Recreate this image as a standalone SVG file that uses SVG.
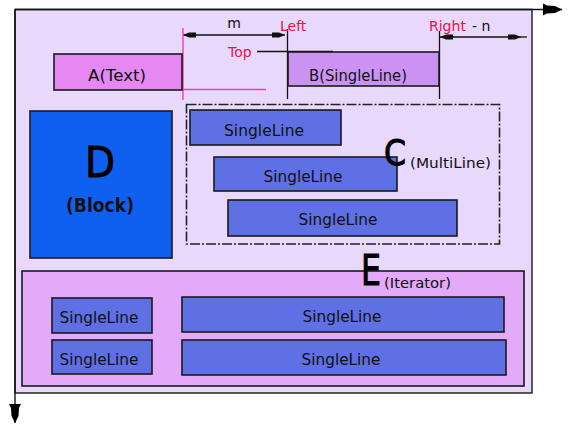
<svg xmlns="http://www.w3.org/2000/svg" width="568" height="425" viewBox="0 0 568 425">
  <defs>
    <style>
      .lbl { font-family: "DejaVu Sans", "Liberation Sans", sans-serif; fill: #111; }
      .big { font-family: "DejaVu Sans", "Liberation Sans", sans-serif; fill: #000; stroke: #000; stroke-width: 1; }
      .red { font-family: "DejaVu Sans", "Liberation Sans", sans-serif; fill: #e8104a; font-size: 14px; }
      .box { stroke: #1a1a1a; stroke-width: 1.6; }
      .single { fill: #5f6fe4; stroke: #1a1a1a; stroke-width: 1.6; }
      .dim { stroke: #111; stroke-width: 1.3; fill: none; }
      .pink { stroke: #f040b8; stroke-width: 1.4; fill: none; }
    </style>
    <marker id="dimEnd" markerWidth="14" markerHeight="8" refX="13" refY="4" orient="auto" markerUnits="userSpaceOnUse">
      <path d="M0,1.5 L7,1.5 L13,4 L7,6.5 L0,6.5 Z" fill="#111"/>
    </marker>
    <marker id="dimStart" markerWidth="14" markerHeight="8" refX="1" refY="4" orient="auto" markerUnits="userSpaceOnUse">
      <path d="M14,1.5 L7,1.5 L1,4 L7,6.5 L14,6.5 Z" fill="#111"/>
    </marker>
    <marker id="axisHead" markerWidth="20" markerHeight="14" refX="19" refY="7" orient="auto" markerUnits="userSpaceOnUse">
      <path d="M0,1 L4,3 L12,3.5 L19,7 L12,10.5 L4,11 L0,13 Z" fill="#000"/>
    </marker>
  </defs>

  <rect width="568" height="425" fill="#ffffff"/>

  <!-- page frame -->
  <g id="frame">
    <rect x="15" y="9.5" width="517" height="383.5" fill="#e8d8fb" stroke="#333" stroke-width="1.6"/>
  </g>

  <!-- coordinate axes and dimension lines -->
  <g id="connectors">
    <line x1="15" y1="9.5" x2="562" y2="9.5" stroke="#111" stroke-width="1.4" marker-end="url(#axisHead)"/>
    <line x1="15" y1="9.5" x2="15" y2="423" stroke="#111" stroke-width="1.4" marker-end="url(#axisHead)"/>

    <!-- m : gap between A and B -->
    <line class="dim" x1="183" y1="35" x2="285" y2="35" marker-start="url(#dimStart)" marker-end="url(#dimEnd)"/>
    <!-- n : right margin -->
    <line class="dim" x1="440" y1="37" x2="521" y2="37" marker-start="url(#dimStart)" marker-end="url(#dimEnd)"/>
    <line class="dim" x1="521" y1="37" x2="527" y2="37"/>

    <!-- guide ticks at B's left and right edges -->
    <line class="dim" x1="287.5" y1="29" x2="287.5" y2="99"/>
    <line class="dim" x1="439.5" y1="31" x2="439.5" y2="99"/>
    <!-- top guide -->
    <line x1="257" y1="51.5" x2="333" y2="51.5" stroke="#111" stroke-width="1.6"/>

    <!-- guides at A's right edge -->
    <line class="pink" x1="183" y1="28" x2="183" y2="100"/>
    <line class="pink" x1="182" y1="89.5" x2="266" y2="89.5"/>
  </g>

  <g id="labels">
    <text class="lbl" x="234" y="28" font-size="14" text-anchor="middle">m</text>
    <text class="red" x="280" y="31">Left</text>
    <text class="red" x="228" y="57" font-size="15">Top</text>
    <text class="red" x="429" y="31">Right</text>
    <text class="lbl" x="472" y="31" font-size="14">- n</text>
  </g>

  <g id="nodeA">
    <rect class="box" x="54" y="54" width="128" height="36" fill="#e688f2"/>
    <text class="lbl" x="117" y="81" font-size="15" text-anchor="middle" textLength="58" lengthAdjust="spacingAndGlyphs">A(Text)</text>
  </g>

  <g id="nodeB">
    <rect class="box" x="288" y="52" width="151" height="34" fill="#cc92f2"/>
    <text class="lbl" x="358" y="81" font-size="15" text-anchor="middle" textLength="98" lengthAdjust="spacingAndGlyphs">B(SingleLine)</text>
  </g>

  <g id="nodeD">
    <rect class="box" x="30" y="111" width="142" height="147" fill="#1060f0"/>
    <text class="big" x="100" y="177" font-size="42" text-anchor="middle" textLength="30" lengthAdjust="spacingAndGlyphs">D</text>
    <text class="lbl" x="100" y="212" font-size="19" font-weight="bold" text-anchor="middle" textLength="68" lengthAdjust="spacingAndGlyphs">(Block)</text>
  </g>

  <g id="nodeC1">
    <rect class="single" x="190" y="110" width="151" height="35"/>
    <text class="lbl" x="264" y="136" font-size="15" text-anchor="middle" textLength="80" lengthAdjust="spacingAndGlyphs">SingleLine</text>
  </g>
  <g id="nodeC2">
    <rect class="single" x="214" y="157" width="183" height="34"/>
    <text class="lbl" x="303" y="182" font-size="15" text-anchor="middle" textLength="79" lengthAdjust="spacingAndGlyphs">SingleLine</text>
  </g>
  <g id="nodeC3">
    <rect class="single" x="228" y="200" width="229" height="36"/>
    <text class="lbl" x="338" y="225" font-size="15" text-anchor="middle" textLength="79" lengthAdjust="spacingAndGlyphs">SingleLine</text>
  </g>

  <!-- multi-line container, its label sits over the second line -->
  <g id="nodeC">
    <rect x="186.5" y="104.5" width="313" height="139.5" fill="none" stroke="#222" stroke-width="1.6" stroke-dasharray="10 2 2 2"/>
    <text class="big" x="384" y="165" font-size="36" textLength="22" lengthAdjust="spacingAndGlyphs">C</text>
    <text class="lbl" x="410" y="168" font-size="14" textLength="81" lengthAdjust="spacingAndGlyphs">(MultiLine)</text>
  </g>

  <g id="nodeE">
    <rect class="box" x="22" y="271" width="502" height="115" fill="#e2aaf8"/>
    <text class="big" x="361" y="285" font-size="42" textLength="20" lengthAdjust="spacingAndGlyphs">E</text>
    <text class="lbl" x="384" y="288" font-size="14" textLength="67" lengthAdjust="spacingAndGlyphs">(Iterator)</text>
  </g>

  <g id="nodeE1">
    <rect class="single" x="52" y="298" width="100" height="35"/>
    <text class="lbl" x="99" y="323" font-size="15" text-anchor="middle" textLength="79" lengthAdjust="spacingAndGlyphs">SingleLine</text>
  </g>
  <g id="nodeE2">
    <rect class="single" x="52" y="340" width="100" height="34"/>
    <text class="lbl" x="99" y="365" font-size="15" text-anchor="middle" textLength="79" lengthAdjust="spacingAndGlyphs">SingleLine</text>
  </g>
  <g id="nodeE3">
    <rect class="single" x="182" y="297" width="322" height="35"/>
    <text class="lbl" x="342" y="322" font-size="15" text-anchor="middle" textLength="79" lengthAdjust="spacingAndGlyphs">SingleLine</text>
  </g>
  <g id="nodeE4">
    <rect class="single" x="182" y="340" width="324" height="35"/>
    <text class="lbl" x="341" y="365" font-size="15" text-anchor="middle" textLength="79" lengthAdjust="spacingAndGlyphs">SingleLine</text>
  </g>
</svg>
